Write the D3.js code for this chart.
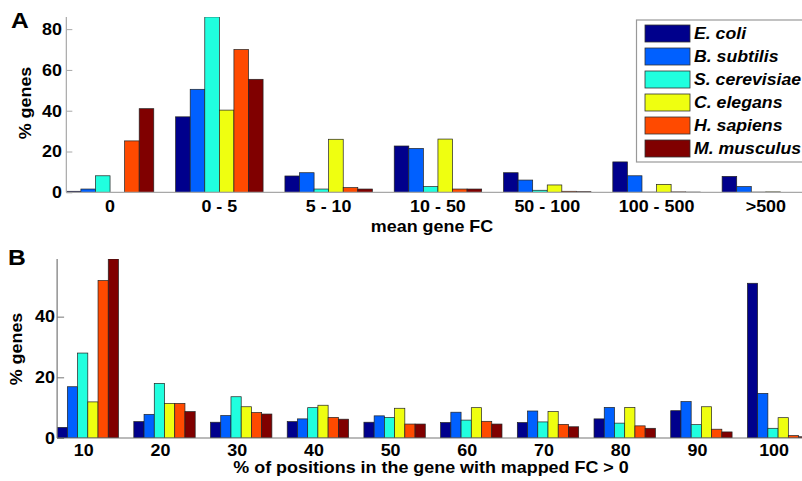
<!DOCTYPE html>
<html>
<head>
<meta charset="utf-8">
<script src="https://cdn.jsdelivr.net/npm/d3@7"></script>
<style>
  body { margin: 0; background: #fff; }
  svg text { font-family: "Liberation Sans", Arial, sans-serif; font-weight: bold; fill: #000; }
</style>
</head>
<body>
<div id="chart"></div>
<script>
// species / series
const species = ["E. coli", "B. subtilis", "S. cerevisiae", "C. elegans", "H. sapiens", "M. musculus"];
const colors = ["#00008c", "#0060ff", "#20ffdf", "#efff10", "#ff4a00", "#800000"];

// panel A : mean gene FC
const catsA = ["0", "0 - 5", "5 - 10", "10 - 50", "50 - 100", "100 - 500", ">500"];
const ecoliA = [0.5, 37, 8, 22.7, 9.6, 14.9, 7.8];
const bsubA  = [1.6, 50.5, 9.6, 21.5, 6, 8.1, 2.8];
const scerA  = [8.1, 86, 1.6, 2.8, 1, 0.1, 0.1];
const celA   = [0, 40.3, 26, 26.1, 3.6, 3.9, 0.2];
const hsapA  = [25.2, 70, 2.3, 1.6, 0.5, 0.2, 0];
const mmusA  = [41, 55.4, 1.6, 1.6, 0.3, 0.1, 0];
const ticksA = [0, 20, 40, 60, 80];

// panel B : % of positions with mapped FC > 0
const catsB = ["10", "20", "30", "40", "50", "60", "70", "80", "90", "100"];
const ecoliB = [3.5, 5.4, 5.2, 5.4, 5.2, 5.1, 5.1, 6.3, 9, 51];
const bsubB  = [16.9, 7.8, 7.4, 6.3, 7.3, 8.5, 8.9, 10.1, 12, 14.7];
const scerB  = [28, 18, 13.6, 10, 6.8, 5.9, 5.3, 4.9, 4.4, 3.2];
const celB   = [11.9, 11.4, 10.3, 10.8, 9.8, 10, 8.7, 10.1, 10.3, 6.7];
const hsapB  = [51.9, 11.4, 8.4, 6.8, 4.6, 5.5, 4.5, 4, 2.9, 0.8];
const mmusB  = [59, 8.7, 7.9, 6.2, 4.6, 4.6, 3.7, 3.2, 2, 0.4];
const ticksB = [0, 20, 40];

const width = 802, height = 481;
const stretch = 1.12; // the original lettering is a bit wider than Arial

const svg = d3.select("#chart").append("svg")
  .attr("width", width)
  .attr("height", height);

// text helper: position by translate, widen glyphs a little
function label(parent, x, y, txt, size, anchor, rotate) {
  const t = parent.append("text")
    .attr("transform", rotate
      ? `translate(${x},${y}) rotate(-90) scale(${stretch},1)`
      : `translate(${x},${y}) scale(${stretch},1)`)
    .attr("text-anchor", anchor || "start")
    .style("font-size", size + "px")
    .text(txt);
  return t;
}

function panel(opts) {
  const series = opts.values;
  const x = d3.scaleBand().domain(opts.cats)
    .range(opts.xRange).paddingInner(0.2).paddingOuter(0.1);
  const xs = d3.scaleBand().domain(species).range([0, x.bandwidth()]);
  const y = d3.scaleLinear().domain([0, opts.yMax]).range(opts.yRange);
  const left = x(opts.cats[0]);

  const clipId = "clip" + opts.id;
  svg.append("clipPath").attr("id", clipId)
    .append("rect")
    .attr("x", left).attr("y", y(opts.yMax))
    .attr("width", width - left).attr("height", y(0) - y(opts.yMax));

  const g = svg.append("g").attr("clip-path", `url(#${clipId})`);
  species.forEach((s, si) => {
    g.selectAll(null)
      .data(series[si])
      .enter()
      .append("rect")
      .attr("x", (d, i) => x(opts.cats[i]) + xs(s))
      .attr("y", d => y(d))
      .attr("width", xs.bandwidth())
      .attr("height", d => y(0) - y(d))
      .attr("fill", colors[si])
      .attr("stroke", "#222")
      .attr("stroke-width", 0.7);
  });

  // y axis (ticks pointing inward)
  const yAxis = svg.append("g")
    .attr("transform", `translate(${left},0)`)
    .call(d3.axisRight(y).tickValues(opts.ticks).tickSize(opts.tickLen).tickFormat(""));
  yAxis.select(".domain").attr("stroke", opts.axisColor).attr("stroke-width", 1.2)
    .attr("d", `M0,${y(opts.yMax)}V${y(0)}`);
  yAxis.selectAll(".tick line").attr("stroke", opts.axisColor);

  const yl = svg.append("g");
  opts.ticks.forEach(d => {
    label(yl, opts.tickLabelX, y(d) + 5.8, d, 16, "end");
  });

  // x axis baseline
  svg.append("line")
    .attr("x1", left).attr("x2", width)
    .attr("y1", y(0)).attr("y2", y(0))
    .attr("stroke", opts.axisColor).attr("stroke-width", 1.2);

  const xl = svg.append("g");
  opts.cats.forEach(d => {
    label(xl, x(d) + x.bandwidth() / 2 + (opts.labelShift || 0), opts.catLabelY, d, 16, "middle");
  });

  label(svg, opts.titleX, opts.titleY, opts.xTitle, 16, "middle");
  label(svg, opts.yTitleX, opts.yTitleY, "% genes", 16, "middle", true);
  label(svg, opts.letterX, opts.letterY, opts.letter, 22, "start");
}

panel({
  id: "A", letter: "A", letterX: 11, letterY: 28,
  cats: catsA,
  values: [ecoliA, bsubA, scerA, celA, hsapA, mmusA],
  xRange: [55.4, 55.4 + 7 * 109.3],
  yMax: 86, yRange: [192.3, 16.9], ticks: ticksA, tickLen: 6,
  axisColor: "#a8a8a8", tickLabelX: 62, catLabelY: 212,
  xTitle: "mean gene FC", titleX: 432, titleY: 232,
  yTitleX: 31, yTitleY: 103
});

panel({
  id: "B", letter: "B", letterX: 8, letterY: 265,
  cats: catsB,
  values: [ecoliB, bsubB, scerB, celB, hsapB, mmusB],
  xRange: [49.45, 49.45 + 10 * 76.7],
  yMax: 59, yRange: [438, 259], ticks: ticksB, tickLen: 7,
  axisColor: "#777", tickLabelX: 55, catLabelY: 456, labelShift: -4,
  xTitle: "% of positions in the gene with mapped FC > 0", titleX: 431, titleY: 473,
  yTitleX: 22, yTitleY: 349
});

// legend
const legend = svg.append("g");
legend.append("rect")
  .attr("x", 636.5).attr("y", 20)
  .attr("width", 200).attr("height", 142)
  .attr("fill", "#fff")
  .attr("stroke", "#999").attr("stroke-width", 1.2);

const ly = d3.scalePoint().domain(species).range([25, 140]);
species.forEach((s, i) => {
  legend.append("rect")
    .attr("x", 645).attr("y", ly(s))
    .attr("width", 45).attr("height", 17)
    .attr("fill", colors[i])
    .attr("stroke", "#333").attr("stroke-width", 0.8);
  label(legend, 694, ly(s) + 14, s, 15.8, "start")
    .style("font-style", "italic");
});
</script>
</body>
</html>
